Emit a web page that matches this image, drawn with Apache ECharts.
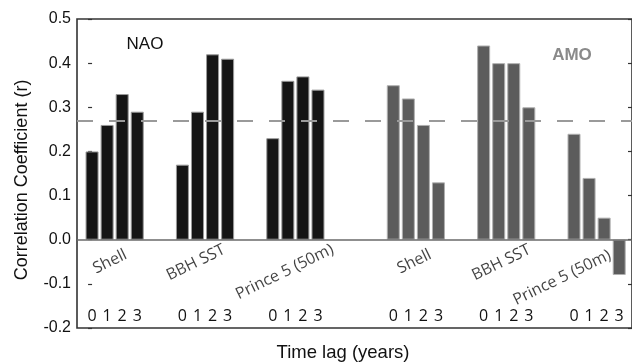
<!DOCTYPE html>
<html><head><meta charset="utf-8">
<script src="https://cdn.jsdelivr.net/npm/echarts@6/dist/echarts.min.js"></script>
<style>html,body{margin:0;padding:0;background:#fff}#c{width:632px;height:363px}</style>
</head><body><div id="c"></div>
<script>
// ---- data ----
var groupNames = ['Shell', 'BBH SST', 'Prince 5 (50m)', 'Shell', 'BBH SST', 'Prince 5 (50m)'];
var lagLabels = ['0', '1', '2', '3'];
var naoShell  = [0.20, 0.26, 0.33, 0.29];
var naoBBH    = [0.17, 0.29, 0.42, 0.41];
var naoPrince = [0.23, 0.36, 0.37, 0.34];
var amoShell  = [0.35, 0.32, 0.26, 0.13];
var amoBBH    = [0.44, 0.40, 0.40, 0.30];
var amoPrince = [0.24, 0.14, 0.05, -0.08];
var significance = 0.27;
var yTickValues = [-0.2, -0.1, 0.0, 0.1, 0.2, 0.3, 0.4, 0.5];
var panelNames = ['NAO', 'AMO'];

// ---- layout (slot positions on the x axis) ----
var groupStart = [0, 6, 12, 20, 26, 32];
var labelShift = [[-0.31, -0.050], [-0.61, -0.052], [-0.71, -0.073], [-0.10, -0.050], [-0.33, -0.052], [-2.29, -0.086]];

var naoSets = [naoShell, naoBBH, naoPrince];
var amoSets = [amoShell, amoBBH, amoPrince];
function toBars(sets, offset) {
  var out = [];
  sets.forEach(function (vals, g) {
    vals.forEach(function (v, i) { out.push([groupStart[g + offset] + i, v]); });
  });
  return out;
}
var slotLag = {};
groupStart.forEach(function (s) { lagLabels.forEach(function (l, i) { slotLag[s + i] = l; }); });
var groupLabelData = groupNames.map(function (n, g) {
  return { value: [groupStart[g] + 1.5 + labelShift[g][0], labelShift[g][1]], name: n };
});

var chart = echarts.init(document.getElementById('c'), null, { renderer: 'canvas' });
var axisFont = 'Liberation Sans, Arial, sans-serif';
chart.setOption({
  animation: false,
  grid: { left: 77, top: 19, width: 556, height: 309, show: true, borderColor: '#333', borderWidth: 1.6, backgroundColor: 'transparent' },
  xAxis: {
    type: 'value', min: -1, max: 35.85, interval: 1,
    axisLine: { show: false }, axisTick: { show: false }, splitLine: { show: false },
    axisLabel: {
      inside: true, margin: 4, fontFamily: 'Open Sans', fontSize: 16, color: '#111',
      showMinLabel: false, showMaxLabel: false,
      formatter: function (v) { return slotLag[Math.round(v)] !== undefined && Math.abs(v - Math.round(v)) < 1e-6 ? slotLag[Math.round(v)] : ''; }
    }
  },
  yAxis: [{
    type: 'value', min: -0.2, max: 0.5, interval: 0.1,
    axisLine: { show: false },
    axisTick: { show: true, length: 4, lineStyle: { color: '#333', width: 1.2 } },
    splitLine: { show: false },
    axisLabel: { margin: 6, fontFamily: axisFont, fontSize: 16, color: '#111',
      formatter: function (v) { return v.toFixed(1); } }
  }, {
    type: 'value', min: -0.2, max: 0.5, interval: 0.1, position: 'right',
    axisLine: { show: false },
    axisTick: { show: true, inside: true, length: 4, lineStyle: { color: '#333', width: 1.2 } },
    splitLine: { show: false }, axisLabel: { show: false }
  }],
  series: [{
    type: 'bar', name: 'NAO', data: toBars(naoSets, 0), barWidth: 13, barGap: '-100%',
    itemStyle: { color: '#151515', borderColor: '#9a9a9a', borderWidth: 1 }
  }, {
    type: 'bar', name: 'AMO', data: toBars(amoSets, 3), barWidth: 13, barGap: '-100%',
    itemStyle: { color: '#5c5c5c', borderColor: '#b0b0b0', borderWidth: 1 }
  }, {
    type: 'scatter', symbolSize: 0, data: groupLabelData, z: 6,
    label: { show: true, position: 'inside', rotate: 26, formatter: '{b}', fontFamily: 'Open Sans', fontSize: 16, color: '#111' }
  }, {
    type: 'line', data: [], z: 8,
    markLine: {
      silent: true, symbol: 'none', label: { show: false },
      data: [
        { yAxis: 0, lineStyle: { type: 'solid', color: '#6a6a6a', width: 1.5 } },
        { yAxis: significance, lineStyle: { type: [16, 16], color: '#9a9a9a', width: 2 } }
      ]
    }
  }],
  graphic: [
    { type: 'text', x: 145, y: 44, style: { text: panelNames[0], font: '17px Liberation Sans', fill: '#111', align: 'center', verticalAlign: 'middle' } },
    { type: 'text', x: 572, y: 55, style: { text: panelNames[1], font: 'bold 17px Liberation Sans', fill: '#8a8a8a', align: 'center', verticalAlign: 'middle' } },
    { type: 'text', x: 22, y: 180, rotation: Math.PI / 2, style: { text: 'Correlation Coefficient (r)', font: '18px Liberation Sans', fill: '#111', align: 'center', verticalAlign: 'middle' } },
    { type: 'text', x: 343, y: 353, style: { text: 'Time lag (years)', font: '18.5px Liberation Sans', fill: '#111', align: 'center', verticalAlign: 'middle' } }
  ]
});
</script></body></html>
